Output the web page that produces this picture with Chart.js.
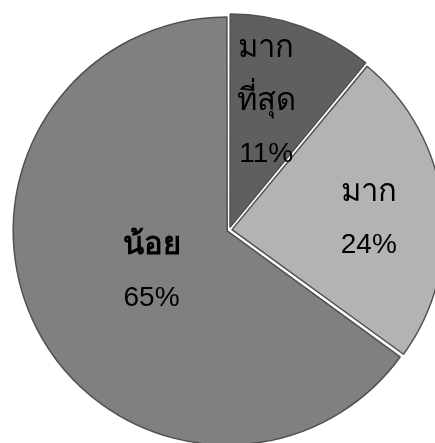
<!DOCTYPE html>
<html>
<head>
<meta charset="utf-8">
<script src="https://cdn.jsdelivr.net/npm/chart.js@4"></script>
<style>
  html, body { margin: 0; padding: 0; background: #fff; overflow: hidden; }
  #wrap { position: absolute; left: 0; top: 0; width: 458px; height: 460px; }
</style>
</head>
<body>
<div id="wrap"><canvas id="pie"></canvas></div>
<script>
// categories and shares (percent)
const categories = [['มาก', 'ที่สุด'], 'มาก', 'น้อย'];
const shares = [11, 24, 65];
const sliceColors = ['#5f5f5f', '#b3b3b3', '#808080'];

// label position along each slice's mid-angle (fraction of radius) plus a small nudge
const labelRadius = [0.63, 0.66, 0.41];
const labelNudge = [[-8, -3], [1, 6], [0, 2]];
const labelBold = [false, false, true];
const lineGap = 53;

const sliceLabels = {
  id: 'sliceLabels',
  afterDatasetsDraw(chart) {
    const ctx = chart.ctx;
    const meta = chart.getDatasetMeta(0);
    ctx.save();
    ctx.fillStyle = '#000';
    ctx.textAlign = 'center';
    ctx.textBaseline = 'middle';
    meta.data.forEach((arc, i) => {
      const mid = (arc.startAngle + arc.endAngle) / 2;
      const r = arc.outerRadius * labelRadius[i];
      const cx = arc.x + Math.cos(mid) * r + labelNudge[i][0];
      const cy = arc.y + Math.sin(mid) * r + labelNudge[i][1];
      const name = chart.data.labels[i];
      const names = Array.isArray(name) ? name : [name];
      const lines = names.concat(shares[i] + '%');
      const top = cy - (lines.length - 1) * lineGap / 2;
      lines.forEach((t, j) => {
        const thai = j < names.length;
        ctx.font = thai
          ? (labelBold[i] ? 'bold ' : '') + '31px "Liberation Sans", Arial, sans-serif'
          : '28px "Liberation Sans", Arial, sans-serif';
        ctx.fillText(t, cx, top + j * lineGap);
      });
    });
    ctx.restore();
  }
};

new Chart(document.getElementById('pie'), {
  type: 'pie',
  data: {
    labels: categories,
    datasets: [{
      data: shares,
      backgroundColor: sliceColors,
      borderColor: '#505050',
      borderWidth: 1.5,
      offset: [12, 12, 8],
      radius: 212,
    }],
  },
  options: {
    responsive: true,
    maintainAspectRatio: false,
    animation: false,
    layout: { padding: 0 },
    plugins: {
      legend: { display: false },
      tooltip: { enabled: false },
    },
  },
  plugins: [sliceLabels],
});
</script>
</body>
</html>
